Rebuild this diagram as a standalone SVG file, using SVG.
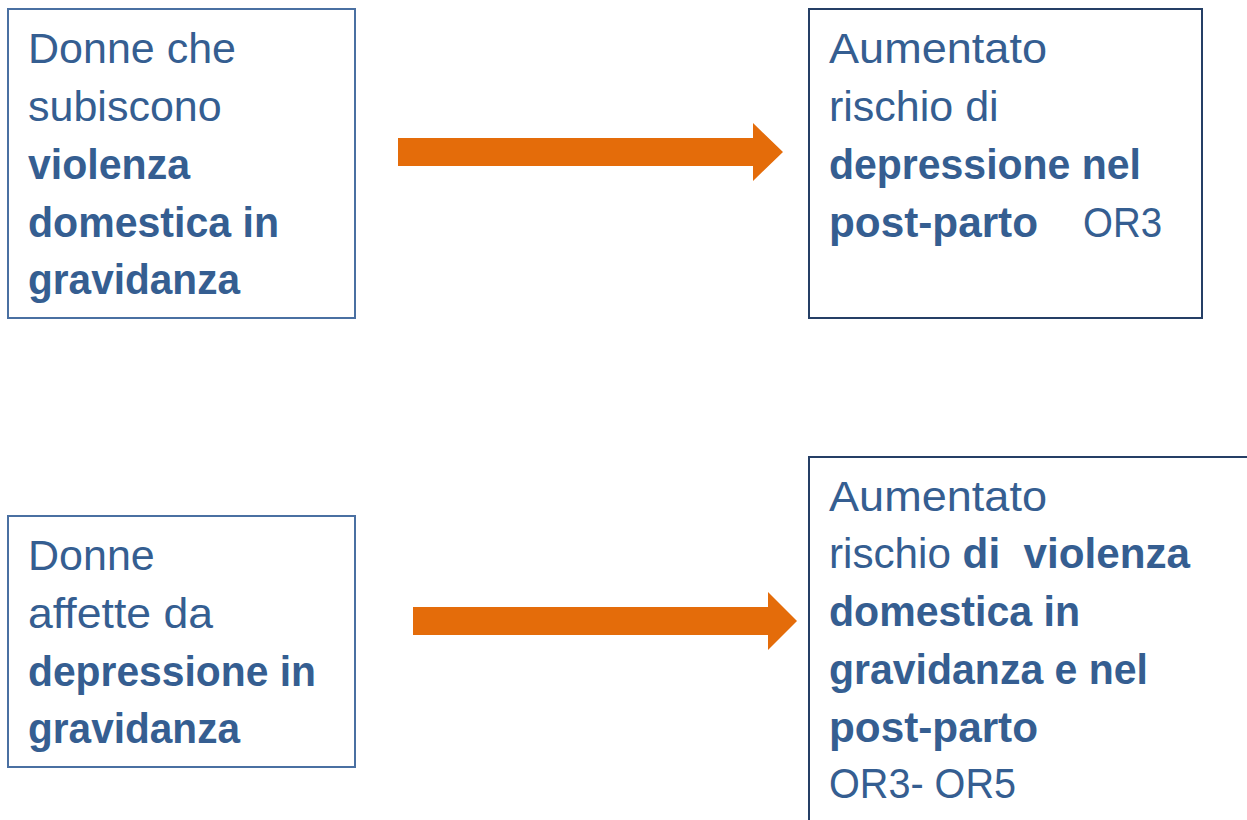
<svg xmlns="http://www.w3.org/2000/svg" width="1247" height="820" viewBox="0 0 1247 820">
<style>
text{font-family:"Liberation Sans",Arial,sans-serif;font-size:43px;fill:#355E91;white-space:pre}
.b{font-weight:bold}
.box{fill:#fff;stroke:#4A70A2;stroke-width:2}
.dk{stroke:#253F66}
.arr{fill:#E46C0A}
</style>
<rect width="1247" height="820" fill="#fff"/>
<g id="n1">
<rect class="box" x="8" y="9" width="347" height="309"/>
<text x="28" y="63">Donne che</text>
<text x="28" y="121">subiscono</text>
<text x="28" y="179" class="b" textLength="162" lengthAdjust="spacingAndGlyphs">violenza</text>
<text x="28" y="237" class="b" textLength="251" lengthAdjust="spacingAndGlyphs">domestica in</text>
<text x="28" y="294" class="b" textLength="212" lengthAdjust="spacingAndGlyphs">gravidanza</text>
</g>
<g id="n2">
<rect class="box dk" x="809" y="9" width="393" height="309"/>
<text x="829" y="63" textLength="218" lengthAdjust="spacingAndGlyphs">Aumentato</text>
<text x="829" y="121">rischio di</text>
<text x="829" y="179" class="b" textLength="312" lengthAdjust="spacingAndGlyphs">depressione nel</text>
<text x="829" y="237" class="b" textLength="209" lengthAdjust="spacingAndGlyphs">post-parto</text>
<text x="1083" y="237" textLength="79" lengthAdjust="spacingAndGlyphs">OR3</text>
</g>
<g id="n3">
<rect class="box" x="8" y="516" width="347" height="251"/>
<text x="28" y="570">Donne</text>
<text x="28" y="628" textLength="185" lengthAdjust="spacingAndGlyphs">affette da</text>
<text x="28" y="686" class="b" textLength="288" lengthAdjust="spacingAndGlyphs">depressione in</text>
<text x="28" y="743" class="b" textLength="212" lengthAdjust="spacingAndGlyphs">gravidanza</text>
</g>
<g id="n4">
<rect class="box dk" x="809" y="457" width="500" height="420"/>
<text x="829" y="511" textLength="218" lengthAdjust="spacingAndGlyphs">Aumentato</text>
<text x="829" y="568" textLength="361" lengthAdjust="spacingAndGlyphs">rischio <tspan class="b">di  violenza</tspan></text>
<text x="829" y="626" class="b" textLength="251" lengthAdjust="spacingAndGlyphs">domestica in</text>
<text x="829" y="684" class="b" textLength="319" lengthAdjust="spacingAndGlyphs">gravidanza e nel</text>
<text x="829" y="742" class="b" textLength="209" lengthAdjust="spacingAndGlyphs">post-parto</text>
<text x="829" y="798" textLength="187" lengthAdjust="spacingAndGlyphs">OR3- OR5</text>
</g>
<g id="connectors">
<polygon class="arr" points="398,138 753,138 753,123 783,152 753,181 753,166 398,166"/>
<polygon class="arr" points="413,607 768,607 768,592 797,621 768,650 768,635 413,635"/>
</g>
</svg>
